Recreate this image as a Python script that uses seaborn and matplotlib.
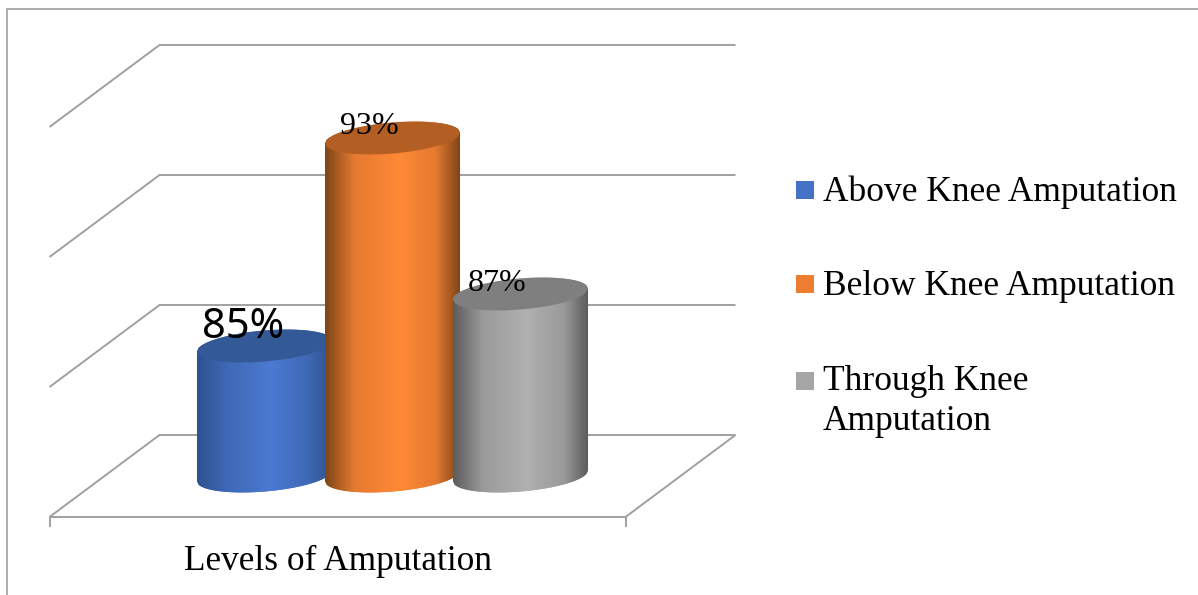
import numpy as np
import pandas as pd
import seaborn as sns
import matplotlib
matplotlib.use("Agg")
import matplotlib.pyplot as plt
from matplotlib.colors import LinearSegmentedColormap
from matplotlib.lines import Line2D
from matplotlib.patches import Patch, PathPatch, Polygon
from matplotlib.path import Path

# Chart content
categories = ["Above Knee Amputation", "Below Knee Amputation", "Through Knee Amputation"]
legend_labels = ["Above Knee Amputation", "Below Knee Amputation", "Through Knee\nAmputation"]
values = [85, 93, 87]
value_labels = ["85%", "93%", "87%"]
grid_values = [80, 85, 90, 95]
axis_title = "Levels of Amputation"

# Colours: flat fill, top face, shaded edge and highlight of each cylinder
fills = ["#4472C4", "#ED7D31", "#A5A5A5"]
top_faces = ["#335A96", "#B35F24", "#7F7F7F"]
edges = ["#2F5290", "#7E4519", "#5C5C5C"]
mids = ["#3F69B5", "#E57A30", "#9A9A9A"]
highlights = ["#4A7AD2", "#FF8A36", "#B0B0B0"]
LINE = "#A0A0A0"

# Pixel scale of the layout
W, H = 1198, 595
PX_X = 128.0    # pixels per category step
PX_Y = 26.0     # pixels per percentage point
X0_PX = 264.5   # pixel column of the first category
Y80_PX = 476.0  # pixel row of the value 80 on the bar plane

sns.set_theme(style="white")
plt.rcParams["font.family"] = "Liberation Serif"

fig = plt.figure(figsize=(W / 100, H / 100), dpi=100)
ax = fig.add_axes([0, 0, 1, 1])

df = pd.DataFrame({"category": categories, "value": values})
bar_width = 135 / PX_X
sns.barplot(data=df, x="category", y="value", hue="category", palette=fills,
            order=categories, hue_order=categories, dodge=False, saturation=1,
            width=bar_width, legend=False, ax=ax)

xlim = (-X0_PX / PX_X, (W - X0_PX) / PX_X)
ylim = (80 - (H - Y80_PX) / PX_Y, 80 + Y80_PX / PX_Y)

# Oblique depth of the 3D box
depth_x = 55 / PX_X
depth_y = 41 / PX_Y
plane_left, plane_right = -1.25, 3.25
base = grid_values[0]
line_kw = dict(color=LINE, lw=1.4, zorder=1, solid_capstyle="butt", solid_joinstyle="miter")

for g in grid_values:
    ax.plot([plane_left - depth_x, plane_left + depth_x, plane_right + depth_x],
            [g - depth_y, g + depth_y, g + depth_y], **line_kw)

# Floor front and right edges, with the two end ticks
ax.plot([plane_left - depth_x, plane_right - depth_x, plane_right + depth_x],
        [base - depth_y, base - depth_y, base + depth_y], **line_kw)
for xt in (plane_left - depth_x, plane_right - depth_x):
    ax.plot([xt, xt], [base - depth_y, base - depth_y - 10 / PX_Y], **line_kw)

# Cylinders: sheared elliptical caps in data units, rising towards the right
shear = 0.081 * PX_X / PX_Y
cap_h = 15.5 / PX_Y


def cap_curve(xc, half, level, sign, n=80):
    u = np.linspace(-1, 1, n)
    x = xc + half * u
    y = level + shear * half * u + sign * cap_h * np.sqrt(1 - u ** 2)
    return x, y


for i, (patch, value) in enumerate(zip(ax.patches, values)):
    left = patch.get_x()
    width = patch.get_width()
    top = patch.get_y() + patch.get_height()
    xc = left + width / 2
    half = width / 2
    z = 3 + 3 * i

    xb, yb = cap_curve(xc, half, base, -1)
    xt, yt = cap_curve(xc, half, top, 1)
    body_xy = np.vstack([np.column_stack([xb, yb]), np.column_stack([xt[::-1], yt[::-1]])])
    body_path = Path(np.vstack([body_xy, body_xy[:1]]), closed=True)
    clip = PathPatch(body_path, transform=ax.transData, facecolor="none", edgecolor="none")
    ax.add_patch(clip)

    patch.set_zorder(z)
    patch.set_clip_path(clip)

    shade = LinearSegmentedColormap.from_list(
        f"shade{i}",
        [(0.0, edges[i]), (0.22, mids[i]), (0.55, highlights[i]), (0.82, mids[i]), (1.0, edges[i])],
    )
    img = ax.imshow(np.linspace(0, 1, 256)[None, :], cmap=shade, aspect="auto",
                    extent=(left, left + width, base - 2, top + 2), zorder=z + 1,
                    interpolation="bilinear")
    img.set_clip_path(clip)

    xu, yu = cap_curve(xc, half, top, 1)
    xl, yl = cap_curve(xc, half, top, -1)
    ax.add_patch(Polygon(np.vstack([np.column_stack([xl, yl]), np.column_stack([xu[::-1], yu[::-1]])]),
                         closed=True, facecolor=top_faces[i], edgecolor="none", zorder=z + 2))

# Value labels sitting on the top faces
label_offsets = [(-21.5, 8), (-23.5, 4), (-23.5, 3)]
label_styles = [dict(family="Noto Sans", fontsize=30), dict(fontsize=23), dict(fontsize=23)]
for i, (text, value) in enumerate(zip(value_labels, values)):
    dx, dy = label_offsets[i]
    ax.annotate(text, xy=(i, value), xytext=(dx * 0.72, dy * 0.72), textcoords="offset points",
                ha="center", va="baseline", color="black", zorder=30, **label_styles[i])

ax.set_xlim(xlim)
ax.set_ylim(ylim)
ax.set_yticks(grid_values)
ax.tick_params(length=0, labelleft=False, labelbottom=False)
ax.set_ylabel("")
ax.set_xlabel(axis_title, fontsize=25.4, color="black", va="baseline", ha="center")
ax.xaxis.set_label_coords(338 / W, (H - 570) / H, transform=ax.transAxes)
sns.despine(ax=ax, left=True, bottom=True)

# Legend with square keys
handles = [Patch(facecolor=c, edgecolor="none") for c in fills]
leg = ax.legend(handles=handles, labels=legend_labels, frameon=False, fontsize=25.5,
                loc="upper left", bbox_to_anchor=(796 / W, 1 - 175 / H), borderpad=0,
                borderaxespad=0, handlelength=0.51, handleheight=0.51, handletextpad=0.255,
                labelspacing=1.74, labelcolor="black")
for txt in leg.get_texts():
    txt.set_linespacing(1.28)
for key in leg.get_patches():
    key.set_y(1.4)
    key.set_height(12.96)
leg.get_patches()[2].set_y(17.3)

# Outer frame: top and left sides only
fig.add_artist(Line2D([7 / W, 7 / W, 1], [0, 1 - 9 / H, 1 - 9 / H], color="#A8A8A8", lw=1.3,
                      solid_joinstyle="miter"))

fig.savefig("out.png", dpi=100)
